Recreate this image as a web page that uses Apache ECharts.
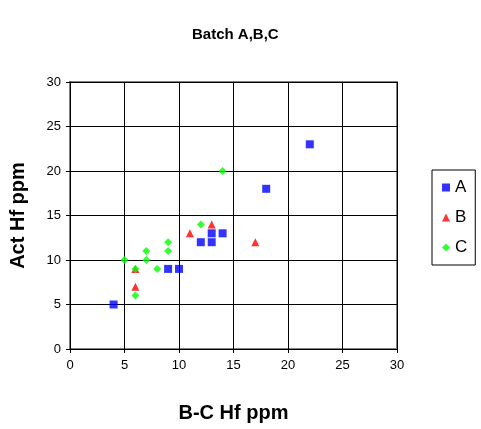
<!DOCTYPE html>
<html>
<head>
<meta charset="utf-8">
<script src="https://cdn.jsdelivr.net/npm/echarts@6/dist/echarts.min.js"></script>
<style>
  html, body { margin: 0; padding: 0; background: #fff; }
  #chart { width: 481px; height: 429px; }
</style>
</head>
<body>
<div id="chart"></div>
<script>
// Batch A
const batchA = [[4, 5], [9, 9], [10, 9], [12, 12], [13, 12], [13, 13], [14, 13], [18, 18], [22, 23]];
// Batch B
const batchB = [[6, 7], [6, 9], [11, 13], [13, 14], [17, 12]];
// Batch C
const batchC = [[5, 10], [6, 9], [6, 6], [7, 10], [7, 11], [8, 9], [9, 11], [9, 12], [12, 14], [14, 20]];

const seriesNames = ['A', 'B', 'C'];
const titleText = 'Batch A,B,C';
const xAxisName = 'B-C Hf ppm';
const yAxisName = 'Act Hf ppm';

const font = 'Liberation Sans, Arial, sans-serif';
const chart = echarts.init(document.getElementById('chart'), null, { renderer: 'canvas' });

chart.setOption({
  animation: false,
  backgroundColor: '#ffffff',
  title: {
    text: titleText,
    left: 187, top: 22,
    textStyle: { fontFamily: font, fontSize: 15, fontWeight: 'bold', color: '#000' }
  },
  grid: { left: 70, top: 82, width: 327, height: 267, show: true, borderColor: '#808080', borderWidth: 2 },
  legend: {
    orient: 'vertical',
    left: 432, top: 170,
    width: 46,
    padding: [9, 8, 9, 10],
    itemGap: 13,
    itemWidth: 8, itemHeight: 8,
    borderColor: '#000', borderWidth: 1,
    textStyle: { fontFamily: font, fontSize: 17, color: '#000' },
    data: [
      { name: 'A', icon: 'rect' },
      { name: 'B', icon: 'triangle' },
      { name: 'C', icon: 'diamond' }
    ]
  },
  xAxis: {
    type: 'value', min: 0, max: 30, interval: 5,
    name: xAxisName, nameLocation: 'middle', nameGap: 54,
    nameTextStyle: { fontFamily: font, fontSize: 20, fontWeight: 'bold', color: '#000' },
    axisLine: { show: true, onZero: false, lineStyle: { color: '#000', width: 1 } },
    axisTick: { show: true, inside: false, length: 4, lineStyle: { color: '#000' } },
    axisLabel: { fontFamily: font, fontSize: 13, color: '#000', margin: 10 },
    splitLine: { show: true, lineStyle: { color: '#000', width: 1 } }
  },
  yAxis: {
    type: 'value', min: 0, max: 30, interval: 5,
    name: yAxisName, nameLocation: 'middle', nameGap: 42,
    nameTextStyle: { fontFamily: font, fontSize: 20, fontWeight: 'bold', color: '#000' },
    axisLine: { show: true, onZero: false, lineStyle: { color: '#000', width: 1 } },
    axisTick: { show: true, inside: false, length: 4, lineStyle: { color: '#000' } },
    axisLabel: { fontFamily: font, fontSize: 13, color: '#000', margin: 9 },
    splitLine: { show: true, lineStyle: { color: '#000', width: 1 } }
  },
  series: [
    { name: seriesNames[0], type: 'scatter', data: batchA, symbol: 'rect', symbolSize: 8,
      itemStyle: { color: '#0000ff' } },
    { name: seriesNames[1], type: 'scatter', data: batchB, symbol: 'triangle', symbolSize: 8,
      itemStyle: { color: '#ff0000' } },
    { name: seriesNames[2], type: 'scatter', data: batchC, symbol: 'diamond', symbolSize: 8,
      itemStyle: { color: '#00ff00' } }
  ]
});
</script>
</body>
</html>
